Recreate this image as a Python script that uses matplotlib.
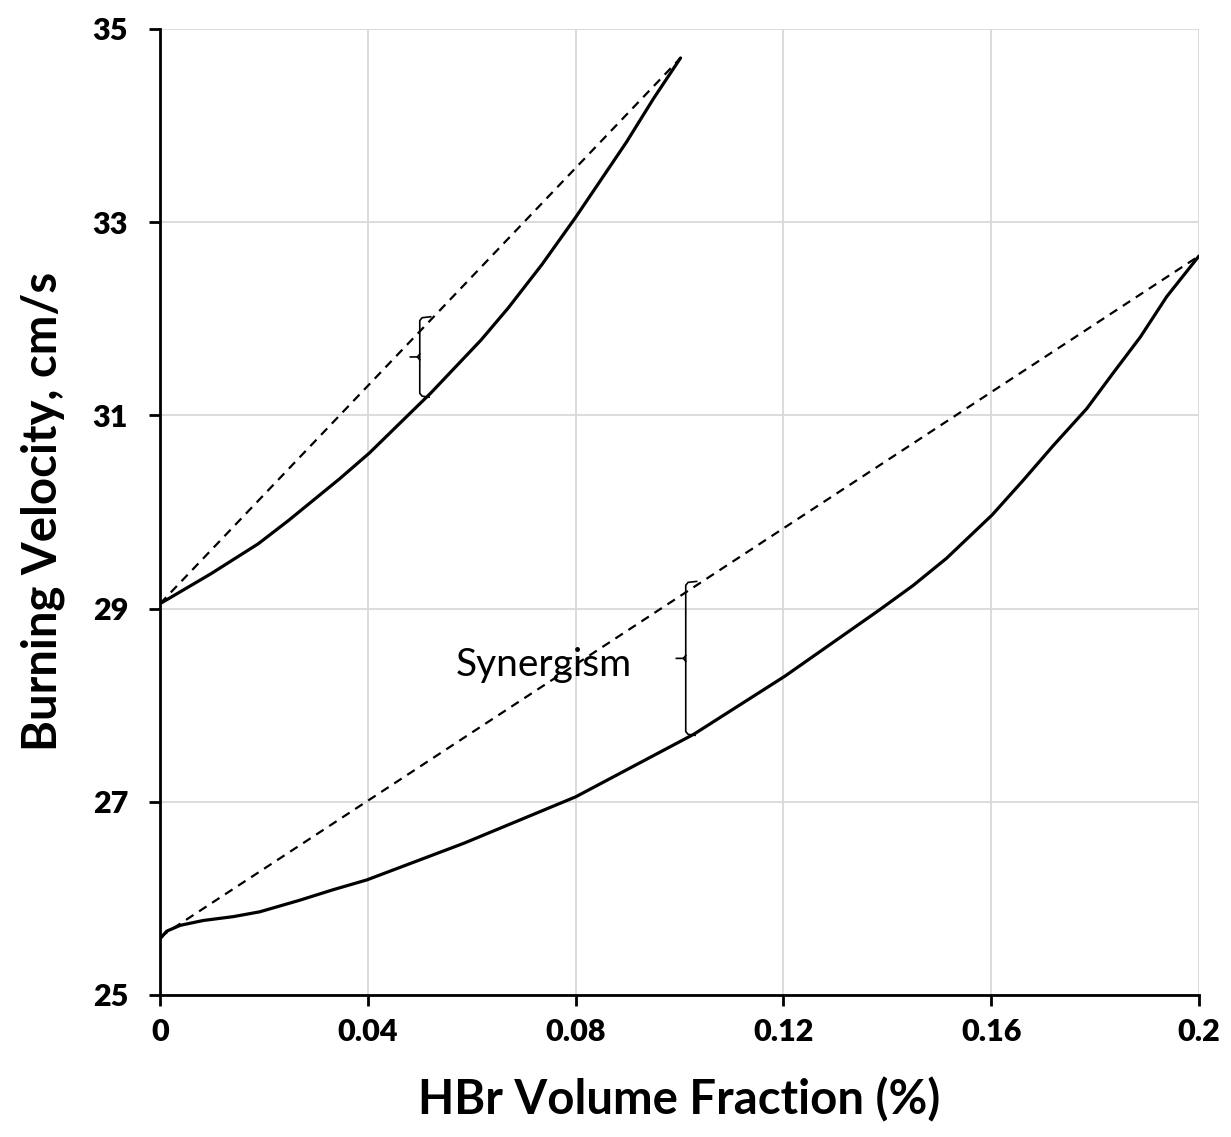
import numpy as np
import matplotlib.pyplot as plt

plt.rcParams['font.family'] = ['Lato', 'DejaVu Sans']

# upper curve (solid) and its linear reference (dashed)
x_up = [0.0, 0.0098, 0.0189, 0.0247, 0.0345, 0.0403, 0.0481, 0.0521, 0.0618, 0.0670, 0.0735, 0.0800, 0.0898, 0.0950, 0.1002]
y_up = [29.05, 29.36, 29.67, 29.91, 30.34, 30.61, 31.02, 31.23, 31.78, 32.11, 32.56, 33.05, 33.83, 34.28, 34.70]
x_up_lin = [0.0, 0.1002]
y_up_lin = [29.05, 34.70]

# lower curve (solid) and its linear reference (dashed)
x_lo = [0.0, 0.0013, 0.0039, 0.0083, 0.0141, 0.0192, 0.0269, 0.0334, 0.0398, 0.0585, 0.0800,
        0.1028, 0.1203, 0.1386, 0.1450, 0.1514, 0.1602, 0.1662, 0.1720, 0.1784, 0.1835,
        0.1887, 0.1938, 0.2000]
y_lo = [25.58, 25.66, 25.72, 25.77, 25.81, 25.86, 25.98, 26.09, 26.19, 26.57, 27.05,
        27.70, 28.30, 28.99, 29.24, 29.52, 29.97, 30.33, 30.69, 31.07, 31.44,
        31.81, 32.23, 32.65]
x_lo_lin = [0.0, 0.2]
y_lo_lin = [25.60, 32.65]

brace_x = [0.0500, 0.1012]

fig = plt.figure(figsize=(12.31, 11.37), dpi=100)
ax = fig.add_axes([0.13, 0.125, 0.844, 0.8495])

ax.plot(x_up, y_up, color='black', lw=2.3, solid_capstyle='round', solid_joinstyle='round')
ax.plot(x_lo, y_lo, color='black', lw=2.3, solid_capstyle='round', solid_joinstyle='round')
ax.plot(x_up_lin, y_up_lin, color='black', lw=1.6, linestyle=(0, (4, 3)))
ax.plot(x_lo_lin, y_lo_lin, color='black', lw=1.6, linestyle=(0, (4, 3)))

# synergism braces
h = 0.003
for (bx, xs, ys, xl, yl) in [(brace_x[0], x_up, y_up, x_up_lin, y_up_lin),
                              (brace_x[1], x_lo, y_lo, x_lo_lin, y_lo_lin)]:
    top = np.interp(bx + h * 0.6, xl, yl) + 0.04
    bot = np.interp(bx + h * 0.5, xs, ys)
    mid = (top + bot) / 2
    ax.plot([bx + h * 0.7, bx + h * 0.15, bx, bx, bx + h * 0.15, bx + h * 0.6],
            [top + 0.01, top, top - 0.03, bot + 0.03, bot, bot - 0.01],
            color='black', lw=1.2, solid_joinstyle='round')
    ax.plot([bx - h * 0.6, bx - h * 0.15, bx],
            [mid, mid, mid + 0.03], color='black', lw=1.2)
    ax.plot([bx - h * 0.15, bx], [mid, mid - 0.03], color='black', lw=1.2)

ax.text(0.0738, 28.30, 'Synergism', fontsize=28, ha='center', va='baseline')

ax.set_xlim(0, 0.2)
ax.set_ylim(25, 35)
ax.set_xticks([0, 0.04, 0.08, 0.12, 0.16, 0.2])
ax.set_xticklabels(['0', '0.04', '0.08', '0.12', '0.16', '0.2'])
ax.set_yticks([25, 27, 29, 31, 33, 35])
ax.grid(True, color='#d9d9d9', lw=1.3)
ax.set_axisbelow(True)
for s in ['top', 'right']:
    ax.spines[s].set_visible(False)
for s in ['left', 'bottom']:
    ax.spines[s].set_linewidth(2.0)
ax.tick_params(axis='both', direction='out', length=8, width=2.0, labelsize=22)
ax.tick_params(axis='x', pad=9)
ax.tick_params(axis='y', pad=15)
for lab in ax.get_xticklabels() + ax.get_yticklabels():
    lab.set_fontweight('heavy')

ax.set_xlabel('HBr Volume Fraction (%)', fontsize=34, fontweight='bold', labelpad=22)
ax.set_ylabel('Burning Velocity, cm/s', fontsize=34, fontweight='bold', labelpad=20)

fig.savefig('out.png', dpi=100)
